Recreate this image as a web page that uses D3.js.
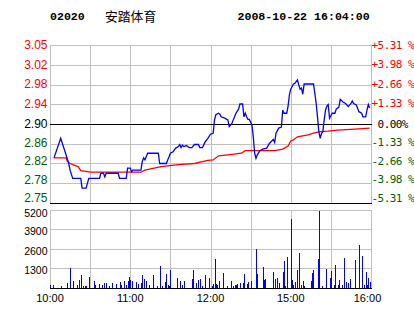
<!DOCTYPE html>
<html><head><meta charset="utf-8">
<script src="https://cdn.jsdelivr.net/npm/d3@7"></script>
<style>body{margin:0;background:#fff}svg{display:block}</style>
</head><body><svg id="c" width="414" height="314"></svg>
<script>
// ---- data ----
const stockCode = "02020";
const stockName = "安踏体育";
const stamp = "2008-10-22 16:04:00";
const prevClose = 2.90;
const maxPct = 5.31;
const leftTickLabels = ["3.05","3.02","2.98","2.94","2.90","2.86","2.82","2.78","2.75"];
const rightTickLabels = ["+5.31 %","+3.98 %","+2.66 %","+1.33 %","\u00a00.00%","-1.33 %","-2.66 %","-3.98 %","-5.31 %"];
const volTickLabels = ["5200","3900","2600","1300"];
const volTickValues = [5200,3900,2600,1300];
const timeTickLabels = ["10:00","11:00","12:00","15:00","16:00"];
const timeTickMinutes = [0,60,120,180,240];
// minutes after 10:00 on a trading clock (12:30 joins 14:30 at 150)
const priceTimes = [3,8,12,14,15,17,23,24,27,29,37,38,40,41,42,51,52,57,58,60,61,62,68,69,70,71,73,81,82,87,88,89,90,92,94,96,97,98,99,100,102,103,104,106,108,111,112,114,116,118,120,122,123,124,126,127,128,131,133,134,136,137,138,139,141,142,144,145,146,147,148,149,151,152,153,154,155,157,159,162,164,167,168,169,171,173,174,175,177,178,179,180,182,183,185,186,187,188,189,190,197,198,199,200,201,202,203,204,205,206,207,208,209,211,213,214,216,217,219,221,223,225,226,227,229,231,233,234,236,237,238,239];
const prices = [2.834,2.872,2.840,2.823,2.810,2.794,2.794,2.775,2.775,2.794,2.794,2.804,2.804,2.797,2.804,2.804,2.794,2.794,2.814,2.814,2.807,2.810,2.810,2.827,2.834,2.830,2.843,2.843,2.823,2.823,2.830,2.836,2.843,2.846,2.853,2.856,2.860,2.854,2.859,2.856,2.858,2.856,2.854,2.854,2.860,2.860,2.854,2.854,2.865,2.872,2.880,2.882,2.908,2.918,2.921,2.919,2.914,2.911,2.908,2.895,2.901,2.908,2.914,2.921,2.929,2.939,2.939,2.914,2.921,2.914,2.909,2.909,2.898,2.875,2.843,2.833,2.840,2.848,2.851,2.853,2.862,2.870,2.864,2.882,2.892,2.894,2.927,2.921,2.921,2.935,2.957,2.968,2.978,2.979,2.986,2.976,2.968,2.970,2.958,2.978,2.978,2.960,2.940,2.914,2.885,2.872,2.882,2.885,2.908,2.927,2.935,2.938,2.911,2.921,2.921,2.929,2.933,2.948,2.943,2.940,2.934,2.940,2.945,2.940,2.937,2.924,2.921,2.914,2.914,2.927,2.938,2.931];
const avgTimes = [3,12,13,15,18,21,23,28,30,50,68,71,83,96,108,118,122,126,133,143,146,168,174,178,180,182,185,193,197,202,208,215,228,239];
const avgPrices = [2.834,2.834,2.827,2.823,2.820,2.817,2.809,2.807,2.806,2.806,2.806,2.810,2.817,2.821,2.823,2.829,2.830,2.838,2.840,2.843,2.848,2.848,2.851,2.857,2.867,2.869,2.875,2.879,2.882,2.885,2.886,2.888,2.890,2.892];
const volTimes = [0,2,8,13,15,17,20,22,23,25,26,27,29,33,34,37,39,40,42,44,46,49,52,53,55,57,58,59,60,61,64,66,68,69,70,72,74,77,80,82,84,86,87,88,89,90,95,97,99,100,106,107,109,111,112,114,116,119,121,122,123,124,125,126,129,132,135,137,138,139,140,142,144,145,147,148,150,154,155,159,160,161,167,168,170,171,174,175,176,177,180,181,182,183,185,186,188,189,190,195,196,197,200,201,203,206,209,210,212,213,215,216,218,220,221,223,224,228,231,233,235,236,237,238,239];
const volumes = [217,217,150,330,1355,440,217,550,875,150,150,150,700,480,180,280,220,300,330,150,330,260,400,200,480,200,480,700,550,480,400,260,330,875,615,480,220,875,150,1470,150,400,940,220,150,1200,660,480,220,480,590,1200,330,550,590,150,875,660,150,260,1910,260,180,440,990,150,480,150,220,220,290,330,330,940,290,370,480,2585,900,1380,550,590,1070,610,680,330,1070,1820,110,2060,4560,550,180,400,1220,2320,180,440,110,480,1000,1160,1930,5100,150,1270,660,1140,180,1550,180,550,220,1990,400,330,610,1880,2830,2150,180,1070,220,660,400];

// ---- drawing ----
const svg = d3.select('#c');
const L = 50, R = 371, PT = 45, PB = 203, VT = 209.5, VB = 288;
const lo = prevClose * (1 - maxPct / 100), hi = prevClose * (1 + maxPct / 100);
const x = d3.scaleLinear().domain([0, 240]).range([L, R]);
const y = d3.scaleLinear().domain([lo, hi]).range([PB, PT]);
const yv = d3.scaleLinear().domain([0, 5200]).range([VB, VT]);
const grid = '#c0c0c0';
const crisp = v => Math.round(v) + 0.5;

// header
const hdr = svg.append('g').attr('font-family', '"Liberation Mono", "DejaVu Sans Mono", monospace')
  .attr('font-weight', 'bold').attr('font-size', '11.6px').attr('fill', '#000');
hdr.append('text').attr('x', 50).attr('y', 20).text(stockCode);
hdr.append('text').attr('x', 237.5).attr('y', 20).text(stamp);
svg.append('text').attr('x', 105).attr('y', 21).attr('font-family', '"Noto Sans CJK SC", sans-serif')
  .attr('font-size', '12.8px').attr('fill', '#000').text(stockName);

// price grid
const rowVals = d3.range(9).map(i => lo + (hi - lo) * i / 8);
const gridG = svg.append('g').attr('shape-rendering', 'crispEdges');
rowVals.forEach(v => {
  gridG.append('line').attr('x1', L).attr('x2', R).attr('y1', crisp(y(v))).attr('y2', crisp(y(v)))
    .attr('stroke', grid).attr('stroke-width', 1);
});
const colTimes = d3.range(0, 241, 30);
colTimes.forEach(t => {
  gridG.append('line').attr('x1', crisp(x(t))).attr('x2', crisp(x(t))).attr('y1', PT).attr('y2', PB)
    .attr('stroke', grid);
  gridG.append('line').attr('x1', crisp(x(t))).attr('x2', crisp(x(t))).attr('y1', VT).attr('y2', VB)
    .attr('stroke', grid);
});
volTickValues.forEach(v => {
  gridG.append('line').attr('x1', L).attr('x2', R).attr('y1', crisp(yv(v))).attr('y2', crisp(yv(v)))
    .attr('stroke', grid);
});
// black lines
[y(prevClose), PB].forEach(v => {
  gridG.append('line').attr('x1', L).attr('x2', R + 0.5).attr('y1', crisp(v)).attr('y2', crisp(v))
    .attr('stroke', '#000').attr('stroke-width', 1.2);
});

// left labels
const labelY = i => i < 4 ? 45 + i * 19.5 : (i === 4 ? y(prevClose) : 198 - (8 - i) * 18.5);
const colorFor = i => i < 4 ? '#ff0000' : (i === 4 ? '#000000' : '#005f00');
leftTickLabels.forEach((s, i) => {
  svg.append('text').attr('x', 47.5).attr('y', labelY(i)).attr('dy', '0.36em')
    .attr('text-anchor', 'end').attr('font-family', '"Liberation Sans", Arial, sans-serif')
    .attr('font-size', '12px').attr('fill', colorFor(i)).text(s);
});
rightTickLabels.forEach((s, i) => {
  svg.append('text').attr('x', 371.5).attr('y', labelY(i)).attr('dy', '0.36em')
    .attr('font-family', '"DejaVu Sans Mono", monospace').attr('font-size', '11px')
    .attr('letter-spacing', '-0.55px').style('white-space', 'pre')
    .attr('fill', colorFor(i)).text(s);
});

// volume labels
volTickValues.forEach((v, i) => {
  svg.append('text').attr('x', 47.5).attr('y', yv(v) + (i === 0 ? 4 : 2)).attr('dy', '0.36em')
    .attr('text-anchor', 'end').attr('font-family', '"Liberation Sans", Arial, sans-serif')
    .attr('font-size', '10.5px').attr('fill', '#000').text(volTickLabels[i]);
});

// time labels
timeTickMinutes.forEach((t, i) => {
  svg.append('text').attr('x', x(t) + (i === timeTickMinutes.length - 1 ? -3.5 : 0)).attr('y', 302)
    .attr('text-anchor', 'middle').attr('font-family', '"Liberation Sans", Arial, sans-serif')
    .attr('font-size', '11px').attr('fill', '#000').text(timeTickLabels[i]);
});

// volume bars
svg.append('g').attr('shape-rendering', 'crispEdges').selectAll('rect')
  .data(volTimes.map((t, i) => ({t, v: volumes[i]})))
  .join('rect')
  .attr('x', d => Math.round(x(d.t)))
  .attr('width', 1)
  .attr('y', d => Math.round(yv(d.v)))
  .attr('height', d => VB - Math.round(yv(d.v)))
  .attr('fill', '#0000ff');
svg.append('line').attr('shape-rendering', 'crispEdges').attr('x1', L).attr('x2', R + 0.5)
  .attr('y1', crisp(VB)).attr('y2', crisp(VB)).attr('stroke', '#000').attr('stroke-width', 1.2);

// lines
const avgData = avgTimes.map((t, i) => [t, avgPrices[i]]);
const priceData = priceTimes.map((t, i) => [t, prices[i]]);
const ln = d3.line().x(d => x(d[0])).y(d => y(d[1]));
svg.append('path').datum(avgData).attr('d', ln).attr('fill', 'none')
  .attr('stroke', '#ff0000').attr('stroke-width', 1.3);
svg.append('path').datum(priceData).attr('d', ln).attr('fill', 'none')
  .attr('stroke', '#0000ff').attr('stroke-width', 1.3);
</script>
</body></html>
